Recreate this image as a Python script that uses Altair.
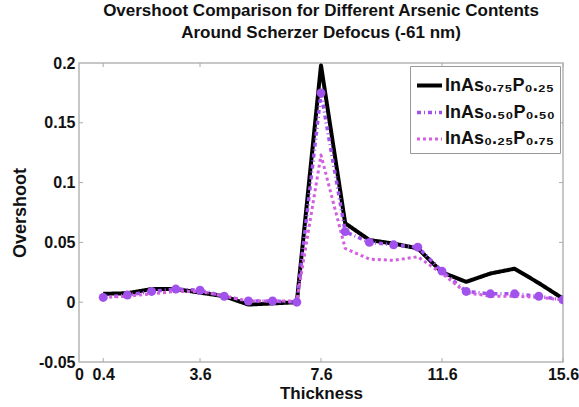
import altair as alt
import pandas as pd

thickness = [0.4, 1.2, 2.0, 2.8, 3.6, 4.4, 5.2, 6.0, 6.8, 7.6,
             8.4, 9.2, 10.0, 10.8, 11.6, 12.4, 13.2, 14.0, 14.8, 15.6]
s075 = [0.007, 0.0075, 0.011, 0.011, 0.008, 0.005, -0.002, -0.001, 0.0, 0.198,
        0.066, 0.052, 0.049, 0.045, 0.025, 0.017, 0.024, 0.028, 0.016, 0.003]
s050 = [0.004, 0.006, 0.009, 0.011, 0.010, 0.005, 0.001, 0.001, 0.0, 0.175,
        0.059, 0.050, 0.048, 0.046, 0.026, 0.009, 0.007, 0.007, 0.005, 0.002]
s025 = [0.004, 0.005, 0.007, 0.009, 0.009, 0.005, 0.001, 0.001, 0.001, 0.123,
        0.045, 0.036, 0.035, 0.038, 0.024, 0.008, 0.005, 0.005, 0.004, 0.002]

names = ["InAs₀.₇₅P₀.₂₅", "InAs₀.₅₀P₀.₅₀", "InAs₀.₂₅P₀.₇₅"]
colors = ["#000000", "#a152ec", "#d35fe0"]
dashes = [[1, 0], [4, 3, 1, 3], [3, 3]]

x_ticks = [-0.4, 0.4, 3.6, 7.6, 11.6, 15.6]
y_ticks = [-0.05, 0, 0.05, 0.1, 0.15, 0.2]

rows = []
for name, vals in zip(names, [s075, s050, s025]):
    for t, v in zip(thickness, vals):
        rows.append({"Thickness": t, "Overshoot": v, "series": name})
df = pd.DataFrame(rows)

W, H = 484, 299
FONT = "Liberation Sans"

xscale = alt.Scale(domain=[-0.4, 15.6], nice=False, zero=False)
yscale = alt.Scale(domain=[-0.05, 0.2], nice=False, zero=False)

xaxis = alt.Axis(values=x_ticks, labelExpr="datum.value < 0 ? '0' : '' + datum.value",
                 title="Thickness", grid=False, domain=False, ticks=False,
                 labelPadding=4, titlePadding=3, labelFlush=False, titleFontSize=17)
yaxis = alt.Axis(values=y_ticks, labelExpr="'' + datum.value", title="Overshoot",
                 grid=False, domain=False, ticks=False, labelPadding=4, titlePadding=9)

lines = alt.Chart(df).mark_line(clip=True, strokeJoin="round").encode(
    x=alt.X("Thickness:Q", scale=xscale, axis=xaxis),
    y=alt.Y("Overshoot:Q", scale=yscale, axis=yaxis),
    color=alt.Color("series:N", scale=alt.Scale(domain=names, range=colors),
                    legend=alt.Legend(title=None, orient="top-right")),
    strokeDash=alt.StrokeDash("series:N", scale=alt.Scale(domain=names, range=dashes),
                              legend=alt.Legend(title=None, orient="top-right")),
    strokeWidth=alt.StrokeWidth("series:N", scale=alt.Scale(domain=names, range=[4, 3, 3.5]),
                                legend=None),
)

pts = alt.Chart(df[df["series"] == names[1]]).mark_circle(size=80, opacity=1, clip=True).encode(
    x=alt.X("Thickness:Q", scale=xscale),
    y=alt.Y("Overshoot:Q", scale=yscale),
    color=alt.value(colors[1]),
)

tick_col = "#aaaaaa"
xt = pd.DataFrame({"t": x_ticks[1:]})
yt = pd.DataFrame({"v": y_ticks[1:-1]})
xt_bot = alt.Chart(xt).mark_rule(color=tick_col).encode(
    x=alt.X("t:Q", scale=xscale), y=alt.value(H), y2=alt.value(H - 4))
xt_top = alt.Chart(xt).mark_rule(color=tick_col).encode(
    x=alt.X("t:Q", scale=xscale), y=alt.value(0), y2=alt.value(4))
yt_l = alt.Chart(yt).mark_rule(color=tick_col).encode(
    y=alt.Y("v:Q", scale=yscale), x=alt.value(0), x2=alt.value(4))
yt_r = alt.Chart(yt).mark_rule(color=tick_col).encode(
    y=alt.Y("v:Q", scale=yscale), x=alt.value(W), x2=alt.value(W - 4))

chart = alt.layer(xt_bot, xt_top, yt_l, yt_r, lines, pts).properties(
    width=W, height=H,
    title=alt.Title(["Overshoot Comparison for Different Arsenic Contents",
                     "Around Scherzer Defocus (-61 nm)"],
                    fontSize=17, font=FONT, fontWeight="bold", anchor="middle",
                    lineHeight=22, offset=13, color="#111"),
    autosize=alt.AutoSizeParams(type="none"),
    padding={"left": 79, "top": 63, "right": 16, "bottom": 45},
).configure_view(stroke="#b5b5b5", strokeWidth=1.5).configure_axis(
    labelFont=FONT, labelFontSize=16, labelFontWeight="bold", labelColor="#111",
    titleFont=FONT, titleFontSize=18, titleFontWeight="bold", titleColor="#111",
).configure_legend(
    labelFont=FONT, labelFontSize=18, labelFontWeight="bold", labelColor="#111",
    symbolType="stroke", symbolSize=625, symbolStrokeWidth=4,
    strokeColor="#999999", fillColor="white", padding=5, rowPadding=3,
    offset=3, labelOffset=1, cornerRadius=0,
)

chart.save("out.html", embed_options={"renderer": "svg", "actions": False})
